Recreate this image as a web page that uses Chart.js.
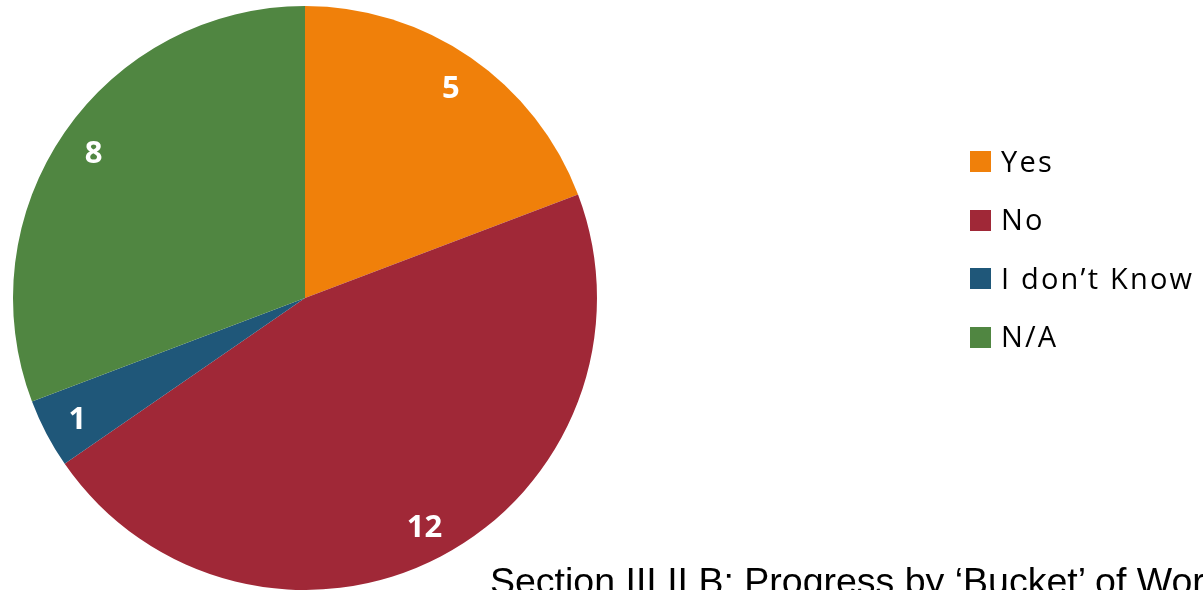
<!DOCTYPE html>
<html>
<head>
<meta charset="utf-8">
<script src="https://cdn.jsdelivr.net/npm/chart.js@4/dist/chart.umd.min.js"></script>
<style>
  html, body { margin: 0; padding: 0; background: #fff; overflow: hidden; }
  #wrap { position: relative; width: 1203px; height: 590px; overflow: hidden; }
  #chart { position: absolute; left: 0; top: 0; }
  .legend { position: absolute; left: 970px; top: 151px; font-family: "Open Sans", "Noto Sans", sans-serif; font-size: 29px; letter-spacing: 2.2px; color: #000; }
  .legend div { position: absolute; left: 0; height: 20px; display: flex; align-items: flex-start; white-space: nowrap; }
  .legend span.box { display: inline-block; width: 21px; height: 21px; margin-right: 10px; }
  .legend span.txt { line-height: 20px; position: relative; top: -0.5px; }
  .caption { position: absolute; left: 490px; top: 563.4px; font-family: "Liberation Sans", Arial, sans-serif; font-size: 37.5px; line-height: 1; white-space: nowrap; color: #000; }
</style>
</head>
<body>
<div id="wrap">
  <canvas id="chart" width="1203" height="590"></canvas>
  <div class="legend" id="legend"></div>
  <div class="caption">Section III.II.B: Progress by ‘Bucket’ of Work</div>
</div>
<script>
const categories = ['Yes', 'No', 'I don\u2019t Know', 'N/A'];
const counts = [5, 12, 1, 8];
const sliceColors = ['#f0800a', '#a02837', '#1f5779', '#508641'];

// legend rows built from the same arrays
const legendEl = document.getElementById('legend');
categories.forEach((name, i) => {
  const row = document.createElement('div');
  row.style.top = `${i * 58.6}px`;
  row.innerHTML = `<span class="box" style="background:${sliceColors[i]}"></span><span class="txt">${name}</span>`;
  legendEl.appendChild(row);
});

// white bold value labels inside each slice
const sliceLabels = {
  id: 'sliceLabels',
  afterDatasetsDraw(chart) {
    const { ctx } = chart;
    const meta = chart.getDatasetMeta(0);
    const size = 31;
    ctx.save();
    ctx.fillStyle = '#fff';
    ctx.font = `bold ${size}px "Open Sans", "Noto Sans", sans-serif`;
    ctx.textAlign = 'center';
    ctx.textBaseline = 'alphabetic';
    meta.data.forEach((arc, i) => {
      const { x, y, startAngle, endAngle, outerRadius } = arc.getProps(
        ['x', 'y', 'startAngle', 'endAngle', 'outerRadius'], true);
      const mid = (startAngle + endAngle) / 2;
      const r = outerRadius * 0.88;
      // baseline set so the digits are centred on the point
      ctx.fillText(String(counts[i]), x + Math.cos(mid) * r, y + Math.sin(mid) * r + size * 0.36);
    });
    ctx.restore();
  },
};

new Chart(document.getElementById('chart').getContext('2d'), {
  type: 'pie',
  data: {
    labels: categories,
    datasets: [{
      data: counts,
      backgroundColor: sliceColors,
      borderWidth: 0,
    }],
  },
  options: {
    responsive: false,
    animation: false,
    layout: { padding: { left: 13, right: 606, top: 6, bottom: 0 } },
    plugins: {
      legend: { display: false },
      tooltip: { enabled: false },
    },
  },
  plugins: [sliceLabels],
});
</script>
</body>
</html>
